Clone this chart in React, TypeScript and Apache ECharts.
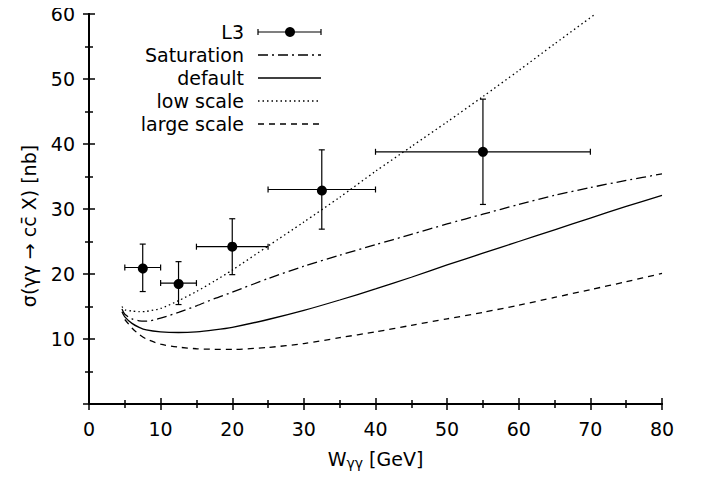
import React, { useEffect, useRef } from "react";
import * as echarts from "echarts";

// L3 data: [x, y, xLow, xHigh, yLow, yHigh]
const l3Points: number[][] = [
  [7.5, 21.0, 5, 10, 17.3, 24.6],
  [12.5, 18.6, 10, 15, 15.3, 21.9],
  [20, 24.2, 15, 25, 19.9, 28.5],
  [32.5, 33.0, 25, 40, 26.9, 39.1],
  [55, 38.8, 40, 70, 30.7, 46.9],
];

const saturation: number[][] = [
  [4.6, 14.6], [5, 13.8], [6, 13.1], [7, 12.8], [8, 12.75], [10, 13.2], [12.5, 14.1], [15, 15.1],
  [17.5, 16.2], [20, 17.2], [25, 19.3], [30, 21.2], [35, 22.9], [40, 24.5], [45, 26.1],
  [50, 27.7], [55, 29.2], [60, 30.7], [65, 32.1], [70, 33.3], [75, 34.4], [80, 35.4],
];

const defaultCurve: number[][] = [
  [4.6, 14.2], [5, 13.4], [6, 12.4], [7, 11.8], [8, 11.4], [10, 11.1], [12.5, 11.0], [15, 11.1],
  [17.5, 11.4], [20, 11.8], [25, 13.0], [30, 14.4], [35, 16.0], [40, 17.7],
  [45, 19.5], [50, 21.4], [55, 23.2], [60, 25.0], [65, 26.8], [70, 28.6], [75, 30.4], [80, 32.1],
];

const lowScale: number[][] = [
  [4.6, 15.0], [5, 14.5], [6, 14.3], [7, 14.2], [8, 14.25], [10, 14.7], [12.5, 15.9], [15, 17.3],
  [17.5, 18.9], [20, 20.6], [25, 24.3], [30, 28.0], [35, 31.8], [40, 35.8],
  [45, 39.6], [50, 43.4], [55, 47.3], [60, 51.3], [65, 55.4], [70.7, 60],
];

const largeScale: number[][] = [
  [5, 13.0], [6, 11.7], [7, 10.7], [8, 10.0], [10, 9.2], [12.5, 8.75], [15, 8.5], [17.5, 8.42],
  [20, 8.4], [25, 8.7], [30, 9.3], [35, 10.2], [40, 11.1], [45, 12.1], [50, 13.1],
  [55, 14.1], [60, 15.2], [65, 16.4], [70, 17.6], [75, 18.8], [80, 20.1],
];

const xTicks = [0, 80, 10];
const yTicks = [0, 60, 10];

const legendNames = ["L3", "Saturation", "default", "low scale", "large scale"];

const FONT = "'DejaVu Sans', sans-serif";
const FS = 19;

export default function App() {
  const ref = useRef<HTMLDivElement>(null);
  useEffect(() => {
    if (!ref.current) return;
    const chart = echarts.init(ref.current, undefined, { renderer: "svg" });
    const axisCommon = {
      axisLine: { show: true, lineStyle: { color: "#000", width: 2 } },
      axisTick: { show: true, inside: true, length: 6, lineStyle: { color: "#000", width: 1.5 } },
      minorTick: { show: true, splitNumber: 2, length: 4, lineStyle: { color: "#000", width: 1.5 } },
      splitLine: { show: false },
    };
    const lineStyleBase = { color: "#000", width: 1.3 };
    const legendY = [32, 55, 78, 101, 124];
    const dashes: any[] = [null, [10, 4, 2, 4], "solid", [1.5, 3], [6, 5]];
    const graphics: any[] = [];
    legendNames.forEach((n, i) => {
      graphics.push({
        type: "text",
        x: 244,
        y: legendY[i],
        style: { text: n, fontSize: FS, fontFamily: FONT, fill: "#000", align: "right", verticalAlign: "middle" },
      });
      if (i === 0) {
        graphics.push({ type: "line", shape: { x1: 258, y1: legendY[i], x2: 321, y2: legendY[i] }, style: { stroke: "#000", lineWidth: 1.2 } });
        graphics.push({ type: "line", shape: { x1: 258, y1: legendY[i] - 3, x2: 258, y2: legendY[i] + 3 }, style: { stroke: "#000", lineWidth: 1.2 } });
        graphics.push({ type: "line", shape: { x1: 321, y1: legendY[i] - 3, x2: 321, y2: legendY[i] + 3 }, style: { stroke: "#000", lineWidth: 1.2 } });
        graphics.push({ type: "circle", shape: { cx: 290, cy: legendY[i], r: 5 }, style: { fill: "#000" } });
      } else {
        graphics.push({
          type: "line",
          shape: { x1: 258, y1: legendY[i], x2: 321, y2: legendY[i] },
          style: { stroke: "#000", lineWidth: 1.3, lineDash: dashes[i] === "solid" ? null : dashes[i] },
        });
      }
    });
    graphics.push({
      type: "text",
      x: 29,
      y: 226,
      rotation: Math.PI / 2,
      style: {
        text: "σ(γγ → cc\u0304 X) [nb]",
        fontSize: FS,
        fontFamily: FONT,
        fill: "#000",
        align: "center",
        verticalAlign: "middle",
      },
    });

    const option: any = {
      animation: false,
      backgroundColor: "#fff",
      grid: { left: 89, right: 43, top: 14, bottom: 77, containLabel: false },
      xAxis: [
        {
          type: "value",
          min: xTicks[0],
          max: xTicks[1],
          interval: xTicks[2],
          position: "bottom",
          ...axisCommon,
          axisLabel: { color: "#000", fontSize: FS, fontFamily: FONT, margin: 15 },
          name: "W{sub|γγ} [GeV]",
          nameLocation: "middle",
          nameGap: 44,
          nameTextStyle: {
            color: "#000",
            fontSize: FS,
            fontFamily: FONT,
            rich: { sub: { fontSize: 14, fontFamily: FONT, verticalAlign: "bottom", padding: [8, 0, 0, 0] } },
          },
        },
        {
          type: "value",
          min: xTicks[0],
          max: xTicks[1],
          interval: xTicks[2],
          position: "top",
          ...axisCommon,
          axisLabel: { show: false },
        },
      ],
      yAxis: [
        {
          type: "value",
          min: yTicks[0],
          max: yTicks[1],
          interval: yTicks[2],
          position: "left",
          ...axisCommon,
          axisLabel: {
            color: "#000",
            fontSize: FS,
            fontFamily: FONT,
            margin: 14,
            formatter: (v: number) => (v === 0 ? "" : String(v)),
          },
        },
        {
          type: "value",
          min: yTicks[0],
          max: yTicks[1],
          interval: yTicks[2],
          position: "right",
          ...axisCommon,
          axisLabel: { show: false },
        },
      ],
      graphic: graphics,
      series: [
        {
          name: "Saturation",
          type: "line",
          data: saturation,
          smooth: 0.25,
          showSymbol: false,
          lineStyle: { ...lineStyleBase, type: [10, 4, 2, 4] },
        },
        {
          name: "default",
          type: "line",
          data: defaultCurve,
          smooth: 0.25,
          showSymbol: false,
          lineStyle: { ...lineStyleBase, type: "solid" },
        },
        {
          name: "low scale",
          type: "line",
          data: lowScale,
          smooth: 0.25,
          showSymbol: false,
          lineStyle: { ...lineStyleBase, type: [1.5, 3] },
        },
        {
          name: "large scale",
          type: "line",
          data: largeScale,
          smooth: 0.25,
          showSymbol: false,
          lineStyle: { ...lineStyleBase, type: [6, 5] },
        },
        {
          name: "L3",
          type: "custom",
          data: l3Points,
          renderItem: (params: any, api: any) => {
            const x = api.value(0), y = api.value(1);
            const xl = api.value(2), xh = api.value(3), yl = api.value(4), yh = api.value(5);
            const c = api.coord([x, y]);
            const pxl = api.coord([xl, y]);
            const pxh = api.coord([xh, y]);
            const pyl = api.coord([x, yl]);
            const pyh = api.coord([x, yh]);
            const st = { stroke: "#000", lineWidth: 1.2 };
            const cap = 3;
            return {
              type: "group",
              children: [
                { type: "line", shape: { x1: pxl[0], y1: c[1], x2: pxh[0], y2: c[1] }, style: st },
                { type: "line", shape: { x1: pxl[0], y1: c[1] - cap, x2: pxl[0], y2: c[1] + cap }, style: st },
                { type: "line", shape: { x1: pxh[0], y1: c[1] - cap, x2: pxh[0], y2: c[1] + cap }, style: st },
                { type: "line", shape: { x1: c[0], y1: pyl[1], x2: c[0], y2: pyh[1] }, style: st },
                { type: "line", shape: { x1: c[0] - cap, y1: pyl[1], x2: c[0] + cap, y2: pyl[1] }, style: st },
                { type: "line", shape: { x1: c[0] - cap, y1: pyh[1], x2: c[0] + cap, y2: pyh[1] }, style: st },
                { type: "circle", shape: { cx: c[0], cy: c[1], r: 5 }, style: { fill: "#000" } },
              ],
            };
          },
        },
      ],
    };
    chart.setOption(option);
    return () => chart.dispose();
  }, []);
  return <div ref={ref} style={{ width: 705, height: 481, margin: -8 }} />;
}
